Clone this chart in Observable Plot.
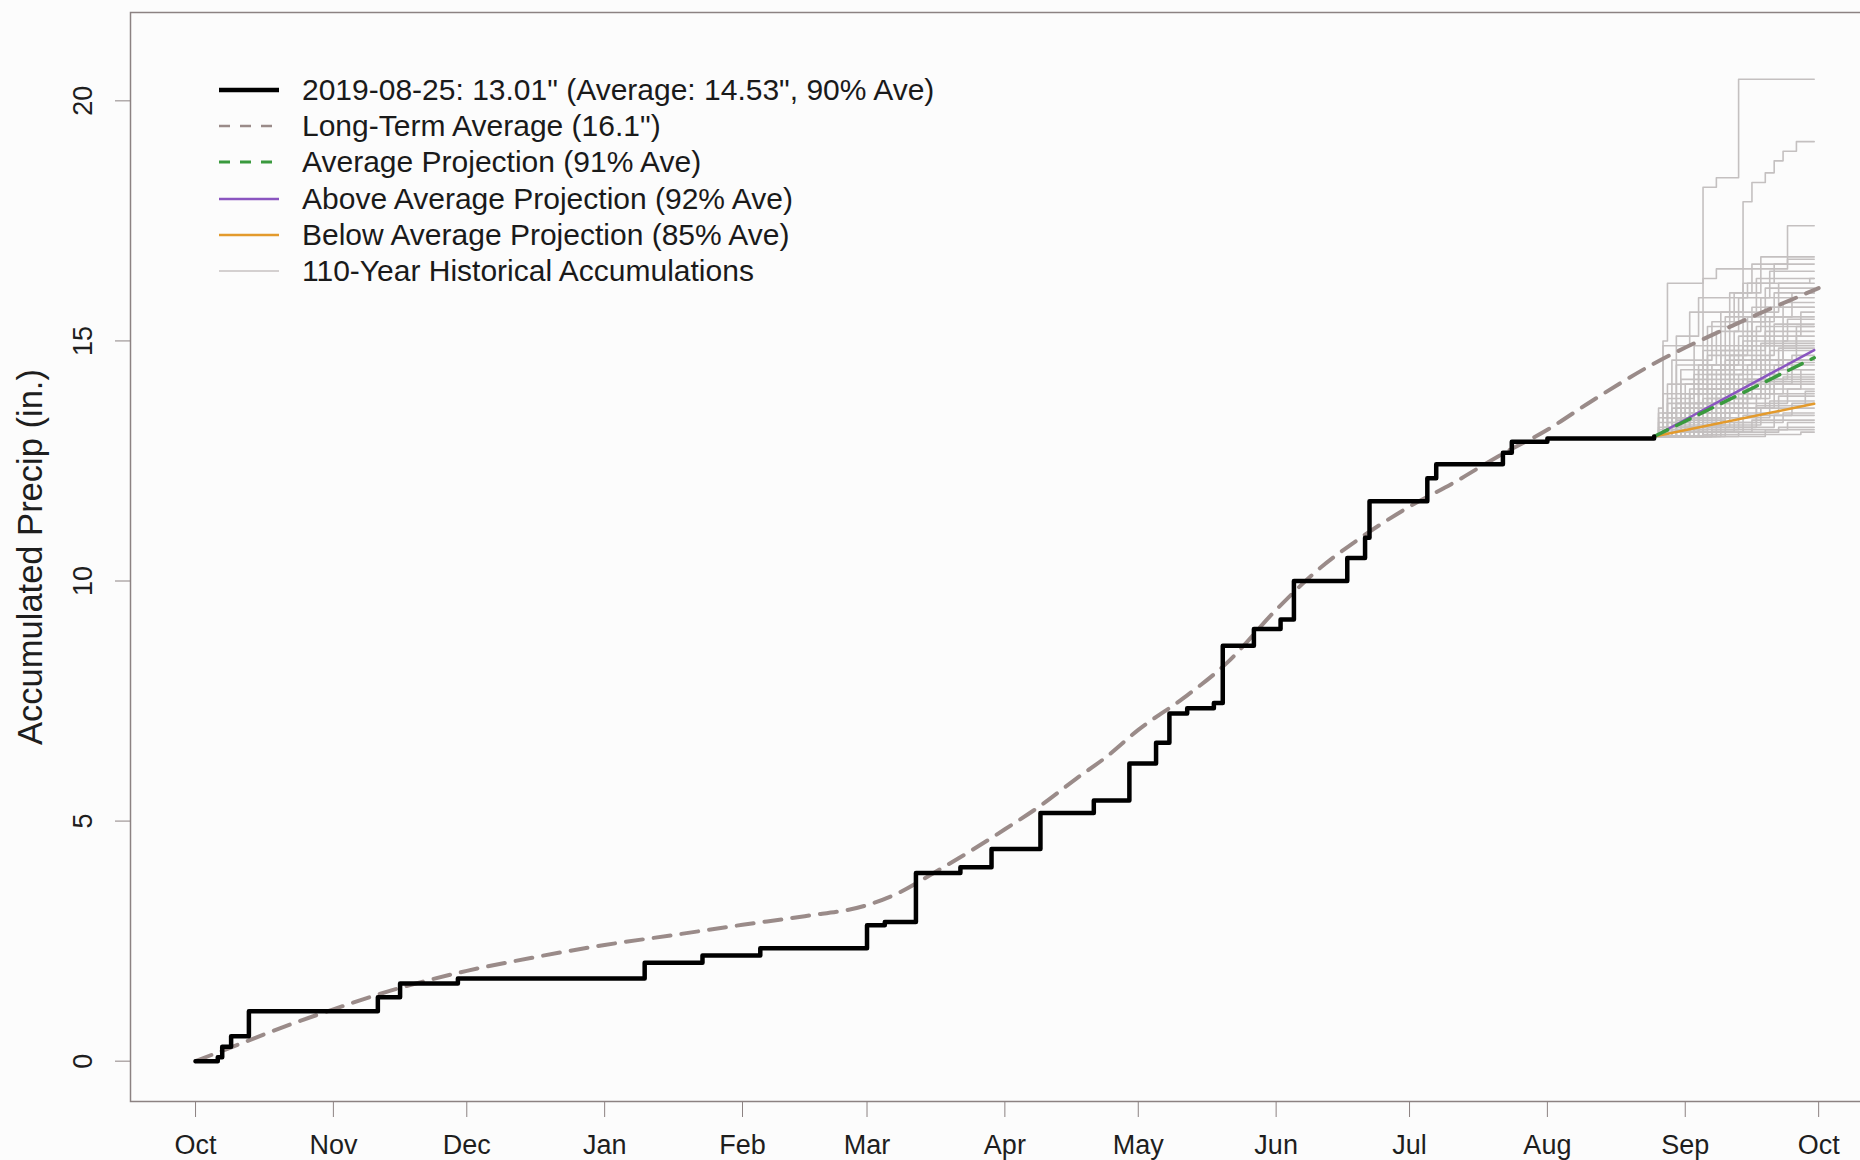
<!DOCTYPE html>
<html><head><meta charset="utf-8">
<script src="https://cdn.jsdelivr.net/npm/d3@7"></script>
<script src="https://cdn.jsdelivr.net/npm/@observablehq/plot@0.6"></script>
<style>
html,body{margin:0;padding:0;background:#fcfcfc;}
#wrap{position:relative;width:1860px;height:1160px;overflow:hidden;background:#fcfcfc;}
#legend{position:absolute;left:219px;top:72px;font-family:"Liberation Sans",Arial,sans-serif;font-size:30px;color:#1a1a1a;}
.row{display:flex;align-items:center;height:36.2px;white-space:nowrap;}
.row svg{width:60px;height:12px;margin-right:23px;flex:none;}
</style></head><body><div id="wrap"><div id="legend"></div></div>
<script>
// ---- data ----
const obsDates = ["2018-10-01","2018-10-06","2018-10-07","2018-10-09","2018-10-13","2018-11-11","2018-11-16","2018-11-29","2019-01-10","2019-01-23","2019-02-05","2019-03-01","2019-03-05","2019-03-12","2019-03-22","2019-03-29","2019-04-09","2019-04-21","2019-04-29","2019-05-05","2019-05-08","2019-05-12","2019-05-18","2019-05-20","2019-05-27","2019-06-02","2019-06-05","2019-06-17","2019-06-21","2019-06-22","2019-07-05","2019-07-07","2019-07-22","2019-07-24","2019-08-01","2019-08-25"];
const obsValues = [0.0,0.08,0.30,0.52,1.04,1.33,1.62,1.72,2.05,2.20,2.35,2.83,2.90,3.92,4.04,4.42,5.17,5.43,6.20,6.63,7.24,7.35,7.46,8.65,9.00,9.20,10.0,10.48,10.90,11.66,12.14,12.43,12.67,12.90,12.97,13.01];

const avgDates = ["2018-10-01","2018-10-11","2018-10-21","2018-11-01","2018-11-15","2018-12-01","2018-12-16","2019-01-01","2019-01-16","2019-02-01","2019-02-15","2019-03-01","2019-03-08","2019-03-16","2019-03-24","2019-04-01","2019-04-09","2019-04-17","2019-04-24","2019-05-01","2019-05-11","2019-05-21","2019-06-01","2019-06-10","2019-06-20","2019-07-01","2019-07-11","2019-07-21","2019-08-01","2019-08-11","2019-08-25","2019-09-10","2019-10-01"];
const avgValues = [0,0.36,0.72,1.08,1.5,1.88,2.16,2.42,2.62,2.84,3.02,3.25,3.5,3.92,4.36,4.83,5.32,5.88,6.35,6.9,7.55,8.3,9.4,10.2,10.9,11.55,12.05,12.6,13.15,13.75,14.53,15.25,16.1];

const projDates = ["2019-08-25","2019-09-30"];
const projAbove = [13.01, 14.81];
const projAverage = [13.01, 14.65];
const projBelow = [13.01, 13.69];

// historical years: [days after 2019-08-25, accumulated value] steps, start 13.01
const histStart = "2019-08-25";
const histEndOffset = 36;
const histTraces = [
 [[11,18.2],[14,18.4],[19,20.45]],
 [[4,13.6],[20,17.9],[22,18.3],[25,18.5],[27,18.75],[29,18.95],[32,19.15]],
 [[2,15.0],[3,16.2],[11,16.3],[14,16.5],[30,17.4]],
 [[6,14.2],[12,15.3],[18,16.0],[24,16.75]],
 [[3,13.8],[9,14.9],[15,15.6],[20,16.2],[27,16.6]],
 [[1,13.5],[5,14.5],[14,15.2],[19,15.9],[26,16.45]],
 [[10,14.4],[16,15.5],[23,16.3]],
 [[2,13.4],[7,14.1],[17,15.6],[28,16.2]],
 [[4,14.6],[13,15.4],[25,16.1]],
 [[8,13.9],[12,14.7],[21,15.5],[31,16.0]],
 [[1,13.3],[6,14.4],[18,15.2],[24,15.9]],
 [[5,13.7],[15,14.9],[29,15.8]],
 [[3,14.1],[11,14.8],[22,15.7]],
 [[7,13.6],[13,14.5],[19,15.1],[33,15.6]],
 [[2,13.9],[16,14.6],[26,15.5]],
 [[9,14.3],[20,15.0],[30,15.45]],
 [[1,13.2],[10,14.0],[17,14.7],[27,15.35]],
 [[6,13.5],[14,14.4],[23,15.3]],
 [[4,13.4],[12,14.2],[25,15.2]],
 [[11,13.8],[18,14.6],[32,15.1]],
 [[3,13.3],[8,13.9],[21,14.5],[29,15.0]],
 [[15,14.1],[24,14.95]],
 [[2,13.2],[9,13.7],[19,14.3],[28,14.85]],
 [[5,13.6],[13,14.0],[26,14.8]],
 [[7,13.4],[17,14.1],[31,14.7]],
 [[1,13.15],[12,13.8],[22,14.6]],
 [[10,13.5],[20,14.2],[30,14.55]],
 [[4,13.25],[16,13.9],[27,14.5]],
 [[6,13.3],[14,13.8],[24,14.4]],
 [[13,13.6],[25,14.3]],
 [[2,13.1],[8,13.5],[18,13.9],[29,14.25]],
 [[9,13.4],[21,14.15]],
 [[5,13.2],[15,13.6],[27,14.1]],
 [[3,13.15],[19,13.7],[30,14.0]],
 [[11,13.3],[23,13.9]],
 [[7,13.2],[17,13.5],[28,13.85]],
 [[14,13.4],[26,13.75]],
 [[4,13.1],[20,13.45],[31,13.7]],
 [[12,13.25],[24,13.6]],
 [[6,13.1],[18,13.3],[29,13.5]],
 [[16,13.2],[27,13.45]],
 [[9,13.1],[22,13.35]],
 [[13,13.15],[30,13.3]],
 [[19,13.1],[28,13.2]],
 [[25,13.15]],
 [[11,13.05],[33,13.1]],
 [[1,13.6],[2,14.9],[8,15.6],[17,16.0],[22,16.6],[30,16.7]],
 [[5,15.1],[10,15.9],[21,16.2],[35,16.3]],
 [[3,13.7],[10,14.5],[22,15.4],[27,16.0]],
 [[8,14.0],[15,14.8],[25,15.7]],
 [[2,13.5],[12,14.3],[20,14.9],[32,15.3]],
 [[6,13.9],[18,14.4],[29,14.9]],
 [[1,13.4],[14,13.9],[24,14.6]],
 [[10,13.7],[21,14.0],[33,14.4]],
 [[5,13.35],[16,13.8],[26,14.2]],
 [[9,13.2],[23,13.65],[34,13.95]]
];

const monthTicks = ["2018-10-01","2018-11-01","2018-12-01","2019-01-01","2019-02-01","2019-03-01","2019-04-01","2019-05-01","2019-06-01","2019-07-01","2019-08-01","2019-09-01","2019-10-01"];
const yTicks = [0,5,10,15,20];

const legendItems = [
 {label: "2019-08-25: 13.01\" (Average: 14.53\", 90% Ave)", color: "#000000", width: 4.5, dash: null},
 {label: "Long-Term Average (16.1\")", color: "#9a8b89", width: 2.5, dash: "11,10"},
 {label: "Average Projection (91% Ave)", color: "#3a9a3e", width: 3, dash: "11,10"},
 {label: "Above Average Projection (92% Ave)", color: "#8a55c0", width: 2.5, dash: null},
 {label: "Below Average Projection (85% Ave)", color: "#e39a2c", width: 2.5, dash: null},
 {label: "110-Year Historical Accumulations", color: "#d4d0d0", width: 2, dash: null}
];

// ---- build tables ----
const P = d3.utcParse("%Y-%m-%d");
const obs = obsDates.map((d,i)=>({date:P(d), value:obsValues[i]}));
const avg = avgDates.map((d,i)=>({date:P(d), value:avgValues[i]}));
const proj = (vals)=>projDates.map((d,i)=>({date:P(d), value:vals[i]}));
const h0 = P(histStart);
const hist = [];
histTraces.forEach((tr,k)=>{
  hist.push({id:k, date:h0, value:13.01});
  tr.forEach(([o,v])=>hist.push({id:k, date:d3.utcDay.offset(h0,o), value:v}));
  hist.push({id:k, date:d3.utcDay.offset(h0,histEndOffset), value:tr[tr.length-1][1]});
});
const ticks = monthTicks.map(P);
const pad = 14.6;
const xDomain = [d3.utcHour.offset(ticks[0], -pad*24), d3.utcHour.offset(ticks[ticks.length-1], pad*24)];

const axisColor = "#8c8282";
const textColor = "#1e1e1e";
const font = "Liberation Sans, Arial, sans-serif";

const chart = Plot.plot({
  width: 1860, height: 1160,
  marginLeft: 130, marginRight: -23, marginTop: 12, marginBottom: 59,
  style: {fontFamily: font, background: "#fcfcfc", color: textColor},
  x: {type: "utc", domain: xDomain},
  y: {domain: [-0.84, 21.84]},
  marks: [
    Plot.line(hist, {x:"date", y:"value", z:"id", curve:"step-after", stroke:"#c4c0c0", strokeWidth:1.6}),
    Plot.line(avg, {x:"date", y:"value", curve:"monotone-x", stroke:"#9a8b89", strokeWidth:4, strokeDasharray:"17,11"}),
    Plot.line(proj(projBelow), {x:"date", y:"value", stroke:"#e39a2c", strokeWidth:2.5}),
    Plot.line(proj(projAbove), {x:"date", y:"value", stroke:"#8a55c0", strokeWidth:2.5}),
    Plot.line(proj(projAverage), {x:"date", y:"value", stroke:"#3a9a3e", strokeWidth:3.5, strokeDasharray:"15,10"}),
    Plot.line(obs, {x:"date", y:"value", curve:"step-after", stroke:"#000", strokeWidth:4.5}),
    Plot.frame({stroke: axisColor, strokeWidth: 1.5}),
    Plot.axisX({ticks: ticks, tickFormat: d3.utcFormat("%b"), tickSize: 16, tickPadding: 17, fontSize: 27, stroke: axisColor, fill: textColor, label: null}),
    Plot.axisY({ticks: yTicks, tickSize: 15, tickFormat: () => "", stroke: axisColor, label: null}),
    Plot.text(yTicks, {y: d => d, text: d => String(d), frameAnchor: "left", textAnchor: "middle", dx: -47, rotate: -90, fontSize: 27, fill: textColor}),
    Plot.text(["Accumulated Precip (in.)"], {frameAnchor: "left", textAnchor: "middle", dx: -100, rotate: -90, fontSize: 34.5, fill: textColor})
  ]
});
document.getElementById("wrap").prepend(chart);

const lg = document.getElementById("legend");
legendItems.forEach(it=>{
  const row = document.createElement("div");
  row.className = "row";
  row.innerHTML = `<svg viewBox="0 0 60 12"><line x1="0" y1="6" x2="60" y2="6" stroke="${it.color}" stroke-width="${it.width}" ${it.dash?`stroke-dasharray="${it.dash}"`:""}/></svg><span>${it.label}</span>`;
  lg.appendChild(row);
});
</script>
</body></html>
